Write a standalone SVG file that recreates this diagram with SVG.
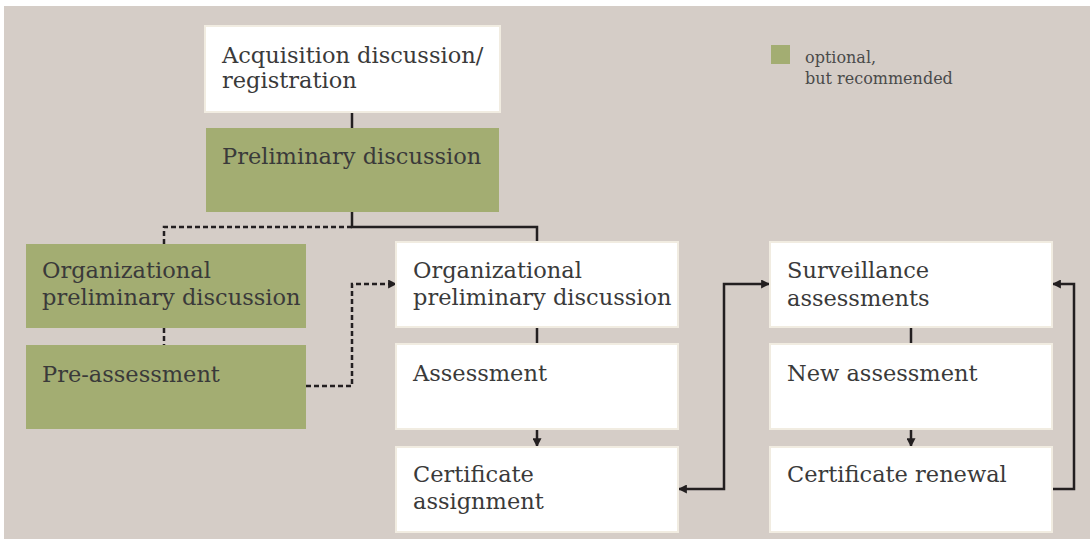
<svg xmlns="http://www.w3.org/2000/svg" width="1090" height="539" viewBox="0 0 1090 539">
<style>
.bg{fill:#d5cdc7}
.w{fill:#ffffff;stroke:#f1ece1;stroke-width:2}
.g{fill:#a3ad72}
.t{font-family:"DejaVu Serif","Liberation Serif",serif;font-size:22.5px;fill:#3a3a3a}
.lg{font-family:"DejaVu Serif","Liberation Serif",serif;font-size:16px;fill:#4a4a4a}
.c{fill:none;stroke:#231f20;stroke-width:2.5}
.d{fill:none;stroke:#231f20;stroke-width:2.5;stroke-dasharray:5 3}
</style>
<defs>
<marker id="ah" viewBox="0 0 8 8" refX="7" refY="4" markerWidth="9" markerHeight="9" markerUnits="userSpaceOnUse" orient="auto-start-reverse">
<path d="M0,0 L8,4 L0,8 z" fill="#231f20"/>
</marker>
</defs>
<rect class="bg" x="4" y="6" width="1086" height="533"/>
<g id="connectors">
<path class="c" d="M352,112 V128"/>
<path class="c" d="M352,212 V227 H537 V242"/>
<path class="d" d="M352,227 H164 V244"/>
<path class="d" d="M164,328 V345"/>
<path class="d" d="M306,386 H352 V284 H396" marker-end="url(#ah)"/>
<path class="c" d="M537,327 V344"/>
<path class="c" d="M537,429 V446" marker-end="url(#ah)"/>
<path class="c" d="M769,284 H724 V489 H679" marker-start="url(#ah)" marker-end="url(#ah)"/>
<path class="c" d="M911,327 V344"/>
<path class="c" d="M911,429 V446" marker-end="url(#ah)"/>
<path class="c" d="M1052,489 H1074 V284 H1053" marker-end="url(#ah)"/>
</g>
<g id="acquisition"><rect class="w" x="205" y="26" width="295" height="86"/><text class="t" x="222" y="63">Acquisition discussion/<tspan x="222" y="88">registration</tspan></text></g>
<g id="preliminary"><rect class="g" x="206" y="128" width="293" height="84"/><text class="t" x="222" y="164">Preliminary discussion</text></g>
<g id="org-opt"><rect class="g" x="26" y="244" width="280" height="84"/><text class="t" x="42" y="278">Organizational<tspan x="42" y="305">preliminary discussion</tspan></text></g>
<g id="pre-assessment"><rect class="g" x="26" y="345" width="280" height="84"/><text class="t" x="42" y="382">Pre-assessment</text></g>
<g id="org"><rect class="w" x="396" y="242" width="282" height="85"/><text class="t" x="413" y="278">Organizational<tspan x="413" y="305">preliminary discussion</tspan></text></g>
<g id="assessment"><rect class="w" x="396" y="344" width="282" height="85"/><text class="t" x="413" y="381">Assessment</text></g>
<g id="cert-assign"><rect class="w" x="396" y="447" width="282" height="85"/><text class="t" x="413" y="482">Certificate<tspan x="413" y="509">assignment</tspan></text></g>
<g id="surveillance"><rect class="w" x="770" y="242" width="282" height="85"/><text class="t" x="787" y="278">Surveillance<tspan x="787" y="306">assessments</tspan></text></g>
<g id="new-assessment"><rect class="w" x="770" y="344" width="282" height="85"/><text class="t" x="787" y="381">New assessment</text></g>
<g id="cert-renewal"><rect class="w" x="770" y="447" width="282" height="85"/><text class="t" x="787" y="482">Certificate renewal</text></g>
<g id="legend"><rect class="g" x="771" y="45" width="19" height="19"/><text class="lg" x="805" y="63">optional,<tspan x="805" y="84">but recommended</tspan></text></g>
</svg>
